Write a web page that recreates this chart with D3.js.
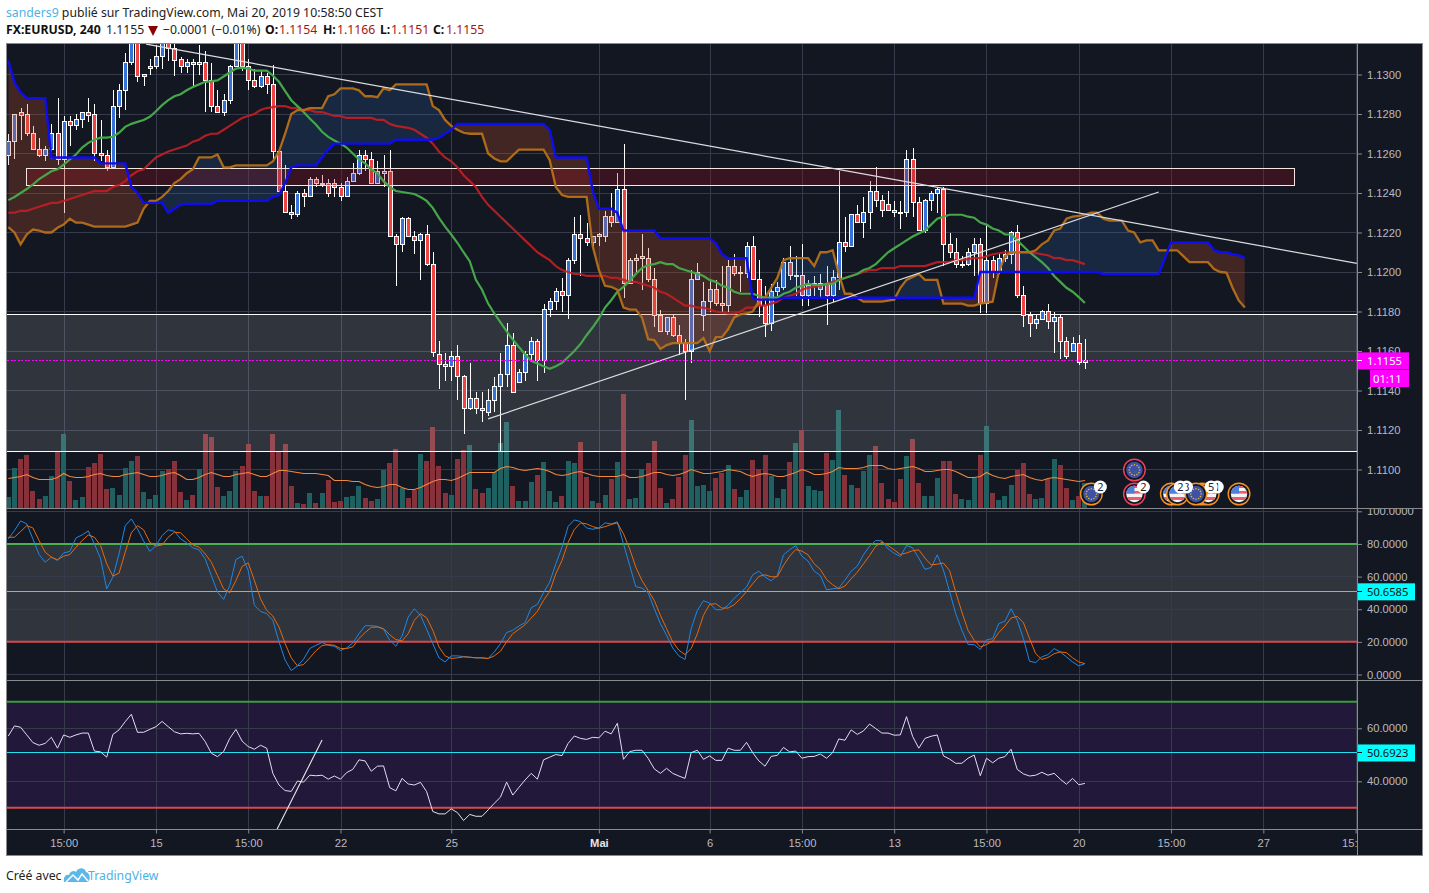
<!DOCTYPE html>
<html><head><meta charset="utf-8">
<script src="https://cdn.jsdelivr.net/npm/d3@7"></script>
<style>
html,body{margin:0;padding:0;background:#fff}
svg{display:block}
text{font-family:"Noto Sans","Open Sans",sans-serif}
.ax text{font-family:"Liberation Sans",Arial,sans-serif;font-size:11.2px;fill:#b8bac2}
</style></head><body><div id="c"></div>
<script>
const opens=[1.1259,1.1266,1.1281,1.1280,1.1270,1.1262,1.1259,1.1262,1.1270,1.1257,
1.1276,1.1274,1.1277,1.1281,1.1280,1.1260,1.1259,1.1253,1.1284,1.1292,
1.1306,1.1320,1.1300,1.1303,1.1304,1.1309,1.1320,1.1313,1.13075,1.1304,
1.1306,1.1305,1.1306,1.1297,1.1284,1.1281,1.1287,1.1304,1.1322,1.1304,
1.1297,1.1294,1.1299,1.1295,1.1261,1.1241,1.1230,1.1229,1.1240,1.1238,
1.1247,1.1245,1.1245,1.1245,1.1243,1.1238,1.1246,1.1250,1.1259,1.1257,
1.1245,1.1250,1.1251,1.1218,1.1214,1.1227,1.1218,1.1216,1.1219,1.1204,
1.1158,1.1153,1.1152,1.1157,1.1147,1.1131,1.1136,1.1131,1.1129,1.1135,
1.1142,1.1148,1.1163,1.1144,1.1149,1.1158,1.1165,1.1155,1.1181,1.1185,
1.1190,1.1188,1.1206,1.1219,1.1217,1.1215,1.1219,1.1218,1.1228,1.1225,
1.1242,1.1194,1.1206,1.1208,1.1207,1.1196,1.1178,1.1170,1.1177,1.1168,
1.1164,1.1160,1.1196,1.1178,1.1185,1.1191,1.1184,1.1183,1.1203,1.1200,
1.1199,1.1213,1.1196,1.1183,1.1174,1.1190,1.1192,1.1205,1.1198,1.1198,
1.1188,1.1194,1.1191,1.1194,1.1188,1.1197,1.1215,1.1213,1.1229,1.1225,
1.1230,1.1241,1.1236,1.1234,1.1231,1.1230,1.1230,1.1257,1.1235,1.1221,
1.1236,1.1240,1.1242,1.1214,1.1210,1.1204,1.1204,1.1210,1.1214,1.1184,
1.1206,1.1200,1.1207,1.1209,1.1220,1.1188,1.1178,1.1174,1.1176,1.1180,
1.1175,1.1177,1.1165,1.1160,1.1164,1.1154];
const highs=[1.1270,1.1280,1.1283,1.1285,1.1274,1.1268,1.1264,1.1275,1.1288,1.1279,
1.1279,1.1280,1.1281,1.1288,1.1285,1.1277,1.1262,1.1292,1.1295,1.1311,
1.1325,1.1323,1.1300,1.1308,1.1315,1.1322,1.1322,1.1318,1.1309,1.1308,
1.1308,1.1315,1.1312,1.1306,1.1292,1.1290,1.1305,1.1325,1.1325,1.1308,
1.1303,1.1302,1.1301,1.1305,1.1261,1.1254,1.1234,1.1241,1.1242,1.1248,
1.1248,1.1249,1.1247,1.1247,1.1245,1.1248,1.1255,1.1262,1.1262,1.1261,
1.1256,1.1259,1.1262,1.1219,1.1228,1.1228,1.1221,1.1220,1.1224,1.1210,
1.1165,1.1159,1.1160,1.1163,1.1148,1.1154,1.1139,1.1139,1.1141,1.1147,
1.1159,1.1174,1.1169,1.1151,1.1160,1.1167,1.1166,1.1184,1.1187,1.1192,
1.1197,1.1207,1.1228,1.1229,1.1225,1.1218,1.1220,1.1231,1.1240,1.1250,
1.1265,1.1207,1.1209,1.1219,1.1212,1.1202,1.1181,1.1177,1.1178,1.1173,
1.1166,1.1201,1.12045,1.1195,1.1196,1.1196,1.1203,1.1206,1.1209,1.1203,
1.1215,1.1218,1.1206,1.1193,1.1194,1.1195,1.1207,1.1213,1.1208,1.1214,
1.1196,1.1198,1.1199,1.1203,1.1201,1.1251,1.1228,1.1229,1.1234,1.1238,
1.1246,1.1253,1.1239,1.1241,1.1236,1.1236,1.1262,1.1263,1.1238,1.1237,
1.1241,1.1243,1.1243,1.1220,1.1217,1.1208,1.1212,1.1217,1.1217,1.1224,
1.1208,1.1209,1.1211,1.1221,1.1224,1.1193,1.1180,1.1178,1.1181,1.1184,
1.1180,1.1178,1.1167,1.1167,1.1168,1.1166];
const lows=[1.1254,1.1257,1.1267,1.1269,1.1262,1.1258,1.1256,1.1257,1.1254,1.1230,
1.1264,1.1272,1.1273,1.1276,1.1256,1.1256,1.1251,1.1252,1.1278,1.1282,
1.1305,1.1296,1.1294,1.1300,1.1303,1.1303,1.1307,1.1299,1.1301,1.1301,
1.1294,1.1300,1.1281,1.1281,1.1281,1.1279,1.1285,1.1304,1.1302,1.1292,
1.1293,1.1293,1.1290,1.1257,1.1240,1.1230,1.1227,1.1228,1.1233,1.1238,
1.1243,1.1243,1.1238,1.1238,1.1236,1.1238,1.1246,1.1249,1.1251,1.1245,
1.1245,1.1243,1.1218,1.1193,1.1210,1.1218,1.1209,1.1196,1.1203,1.1157,
1.1141,1.1145,1.1145,1.1135,1.1118,1.1130,1.1128,1.1124,1.1127,1.1129,
1.1109,1.1142,1.1139,1.1144,1.1145,1.1155,1.1145,1.1149,1.1177,1.1181,
1.1180,1.1176,1.1204,1.1198,1.1213,1.1211,1.1213,1.1215,1.1223,1.1225,
1.1187,1.1194,1.1200,1.1191,1.1195,1.1172,1.1170,1.1168,1.1167,1.1158,
1.1135,1.1154,1.1196,1.1170,1.1180,1.1183,1.1180,1.1180,1.1198,1.1190,
1.1197,1.1196,1.1177,1.1167,1.1170,1.1188,1.1191,1.1196,1.1188,1.1183,
1.1183,1.1188,1.1187,1.1173,1.1185,1.1191,1.1210,1.1213,1.1225,1.1217,
1.1222,1.1233,1.1228,1.1231,1.1228,1.1222,1.1228,1.1228,1.1221,1.1220,
1.1231,1.1230,1.1203,1.1207,1.1202,1.1202,1.1203,1.1198,1.1179,1.1179,
1.1197,1.1199,1.1205,1.1204,1.1187,1.1172,1.1167,1.1171,1.1176,1.1171,
1.1159,1.1156,1.1156,1.1160,1.1153,1.1151];
const closes=[1.1266,1.1280,1.1279,1.1270,1.1262,1.1259,1.1262,1.1270,1.1257,1.1276,
1.1274,1.1277,1.1281,1.1279,1.1260,1.1259,1.1253,1.1284,1.1292,1.1306,
1.1320,1.1299,1.1299,1.1304,1.1309,1.1317,1.1313,1.1307,1.1304,1.1306,
1.1305,1.1306,1.1297,1.1284,1.1281,1.1287,1.1304,1.1320,1.1304,1.1297,
1.1294,1.1299,1.1295,1.1261,1.1241,1.1230,1.1229,1.1240,1.1238,1.1247,
1.1245,1.1245,1.1240,1.1243,1.1238,1.1246,1.1250,1.1259,1.1257,1.1245,
1.1251,1.1251,1.1218,1.1214,1.1227,1.1218,1.1216,1.1219,1.1204,1.1159,
1.1153,1.1152,1.1157,1.1147,1.1131,1.1136,1.1131,1.1130,1.1135,1.1142,
1.1148,1.1163,1.1139,1.1149,1.1158,1.1165,1.1155,1.1181,1.1185,1.1190,
1.1188,1.1206,1.1219,1.1217,1.1215,1.1218,1.1218,1.1228,1.1225,1.1242,
1.1194,1.1206,1.1207,1.1207,1.1196,1.1178,1.1170,1.1177,1.1168,1.1164,
1.1160,1.1196,1.1200,1.1185,1.1191,1.1184,1.1183,1.1203,1.1199,1.1199,
1.1213,1.1196,1.1183,1.1174,1.1190,1.1192,1.1205,1.1198,1.1198,1.1188,
1.1193,1.1194,1.1194,1.1188,1.1197,1.1215,1.1213,1.1229,1.1225,1.1230,
1.1241,1.1236,1.1231,1.1231,1.1230,1.1230,1.1257,1.1235,1.1221,1.1236,
1.1240,1.1242,1.1214,1.1210,1.1204,1.1204,1.1210,1.1214,1.1184,1.1206,
1.1200,1.1207,1.1209,1.1220,1.1188,1.1178,1.1174,1.1176,1.1180,1.1175,
1.1177,1.1165,1.1157,1.1164,1.1154,1.1155];
const volumes=[12,41,50,54,18,10,13,33,58,75,28,9,12,42,46,55,20,21,14,41,
48,53,17,10,14,38,40,48,17,9,14,40,75,72,22,13,18,38,43,65,
18,13,13,75,58,65,23,6,5,16,6,16,29,7,8,12,13,23,11,8,
10,39,46,60,21,11,19,55,48,82,43,16,14,50,59,64,20,16,21,37,
66,87,23,8,8,27,34,47,18,7,13,48,46,67,32,8,6,14,30,47,
115,10,11,40,46,68,21,6,10,32,54,89,23,24,18,31,36,44,20,12,
19,49,40,54,33,11,20,47,66,79,23,19,18,56,49,99,34,24,21,38,
54,63,26,10,7,30,53,70,26,13,13,31,48,48,15,10,9,31,54,83,
16,9,13,24,39,46,15,10,11,30,50,44,21,9,13,26];
const volumeDirections=["uudddduudu","duudddduuu","uduuuudddu","duddduuudd","dudddddudu","duddduuudd","uuddudd"+"udd","dduddudduu","uuduuuduuu","duuddududu","duuudddudd","duuuuddudu","uddduuudud","uuuduududu","udddddu"+"ddu","uuddduuudu","duuuddduud","uddudu"].join("");
const volumeAverage=[30,31,32,34,31,29,29,29,31,35,32,31,31,32,34,35,33,32,32,34,
35,36,34,32,32,33,35,36,33,29,29,31,34,36,34,32,32,34,35,36,
34,32,32,35,38,38,37,36,35,35,35,34,33,28,28,28,27,27,24,22,
21,22,24,24,21,19,19,21,24,27,29,29,28,30,33,36,36,36,36,36,
40,42,41,39,38,39,40,39,37,34,33,34,36,37,35,33,32,32,32,32,
34,31,31,32,34,36,36,34,33,34,36,39,37,35,35,36,37,39,38,37,
34,32,34,35,34,32,32,34,36,39,37,34,34,35,37,41,40,40,40,41,
43,43,43,40,39,40,41,42,40,37,37,38,39,39,37,34,31,31,32,36,
33,31,30,32,33,34,31,29,28,30,31,30,29,28,27,28];
const spanA=[1.12227,1.1220,1.1214,1.1219,1.12215,1.1221,1.1220,1.1220,1.12224,1.1224,
1.1227,1.1225,1.1225,1.1224,1.1223,1.1223,1.1223,1.1223,1.1223,1.1223,
1.1224,1.1225,1.1232,1.1236,1.1236,1.1238,1.1241,1.1245,1.1247,1.1250,
1.1252,1.1258,1.1258,1.1258,1.12595,1.1253,1.1253,1.1254,1.1254,1.1254,
1.1254,1.1254,1.1254,1.1256,1.1261,1.1270,1.1280,1.1282,1.1282,1.1283,
1.1283,1.1283,1.1289,1.1290,1.1293,1.1293,1.1293,1.1292,1.1289,1.1289,
1.12885,1.1293,1.1292,1.1295,1.1295,1.1295,1.1295,1.1295,1.1295,1.1284,
1.1282,1.1277,1.1274,1.1272,1.12705,1.1270,1.1270,1.1270,1.1260,1.12575,
1.1256,1.1256,1.1259,1.1262,1.1262,1.1262,1.1262,1.1262,1.12566,1.1243,
1.1239,1.1238,1.1238,1.1238,1.1238,1.1213,1.1201,1.1193,1.11925,1.1191,
1.1182,1.1181,1.1181,1.1177,1.1166,1.11655,1.1161,1.1163,1.1164,1.1164,
1.1164,1.1164,1.1164,1.11665,1.1160,1.1167,1.1167,1.1171,1.1177,1.11785,
1.1179,1.1180,1.1185,1.1187,1.1192,1.1197,1.1206,1.1207,1.1207,1.1207,
1.1207,1.1203,1.1210,1.1210,1.1211,1.1199,1.1189,1.1189,1.1187,1.1185,
1.1185,1.1185,1.1185,1.11855,1.1186,1.1192,1.1196,1.11975,1.1199,1.1196,
1.1196,1.1196,1.1184,1.1184,1.1184,1.1184,1.1183,1.1183,1.1184,1.11845,
1.1185,1.1200,1.1208,1.1210,1.1210,1.1210,1.1210,1.1211,1.1214,1.1216,
1.1221,1.1222,1.1227,1.1228,1.12284,1.1229,1.1230,1.1230,1.1227,1.1226,
1.1226,1.1226,1.1221,1.1220,1.1215,1.1216,1.1216,1.1211,1.1211,1.1211,
1.1211,1.1208,1.1205,1.1205,1.1205,1.1205,1.12015,1.1200,1.11997,1.1192,
1.11856,1.1182];
const spanB=[1.1307,1.1296,1.1291,1.1288,1.1288,1.1288,1.1288,1.1258,1.1258,1.1258,
1.1258,1.1258,1.1258,1.1258,1.1258,1.1255,1.1255,1.1255,1.1255,1.1255,
1.1243,1.1240,1.1235,1.1235,1.1235,1.1235,1.1230,1.1232,1.1234,1.12345,
1.12345,1.12345,1.12345,1.12345,1.1236,1.1236,1.1236,1.1236,1.1236,1.1236,
1.1236,1.1236,1.1236,1.1238,1.1239,1.1245,1.1253,1.1254,1.1254,1.1254,
1.1254,1.1258,1.1262,1.1265,1.1265,1.1265,1.1265,1.1265,1.1265,1.1265,
1.1265,1.1265,1.1265,1.1267,1.1267,1.1267,1.1267,1.1267,1.1267,1.1267,
1.1268,1.1270,1.1272,1.1275,1.1275,1.1275,1.1275,1.1275,1.1275,1.1275,
1.1275,1.1275,1.1275,1.1275,1.1275,1.1275,1.1275,1.1275,1.1272,1.1258,
1.1258,1.1258,1.1258,1.1258,1.1258,1.1241,1.1232,1.1232,1.1232,1.1230,
1.1221,1.1221,1.1221,1.1221,1.1221,1.1221,1.1217,1.1217,1.1217,1.1217,
1.1217,1.1217,1.1217,1.1217,1.1217,1.12145,1.1209,1.1207,1.1207,1.1207,
1.1207,1.11865,1.1186,1.1186,1.1186,1.1186,1.1187,1.1187,1.1187,1.1187,
1.1187,1.1187,1.1187,1.1187,1.1187,1.1187,1.1187,1.1187,1.1187,1.1187,
1.1187,1.1187,1.1187,1.1187,1.1187,1.1187,1.1187,1.1187,1.1187,1.1187,
1.1187,1.1187,1.1187,1.1187,1.1187,1.1187,1.1187,1.1187,1.1200,1.1200,
1.1200,1.1200,1.1200,1.1200,1.1200,1.1200,1.1200,1.1200,1.1200,1.1200,
1.1200,1.1200,1.1200,1.1200,1.1200,1.1200,1.1200,1.1200,1.1199,1.1199,
1.1199,1.1199,1.1199,1.1199,1.1199,1.1199,1.1199,1.1199,1.1207,1.1215,
1.1215,1.1215,1.1215,1.1215,1.1215,1.1215,1.1211,1.1210,1.1210,1.1209,
1.12085,1.1207];
const maFast=[1.12364,1.1238,1.1240,1.1242,1.12443,1.1247,1.1249,1.1251,1.1252,1.12544,
1.1257,1.12595,1.1263,1.12654,1.1267,1.1268,1.1268,1.12685,1.12705,1.12735,
1.1275,1.1276,1.1277,1.12786,1.12814,1.12845,1.1287,1.1289,1.1290,1.1292,
1.12937,1.1295,1.12963,1.12965,1.1297,1.1299,1.1301,1.1303,1.13035,1.1303,
1.1302,1.1302,1.1302,1.12995,1.12963,1.12916,1.1287,1.1284,1.1281,1.12777,
1.12747,1.1271,1.12684,1.12666,1.1265,1.1263,1.1260,1.1257,1.1255,1.1252,
1.1250,1.1246,1.1243,1.1241,1.12405,1.1240,1.12395,1.1238,1.1236,1.12325,
1.12274,1.1223,1.1219,1.12148,1.1210,1.12055,1.1196,1.1191,1.1184,1.1179,
1.11745,1.1170,1.11658,1.1162,1.11584,1.1155,1.11537,1.11523,1.1151,1.11523,
1.1154,1.1157,1.1160,1.11635,1.1168,1.1172,1.11765,1.1182,1.11857,1.1190,
1.11925,1.11955,1.1199,1.1202,1.12035,1.1204,1.1205,1.1204,1.1204,1.1202,
1.1201,1.1200,1.11992,1.1198,1.1196,1.1195,1.1193,1.1192,1.1190,1.1189,
1.1189,1.1189,1.1188,1.1187,1.1187,1.1187,1.1189,1.1190,1.1192,1.1193,
1.1194,1.11935,1.11933,1.1194,1.1194,1.1196,1.1197,1.1198,1.1199,1.1201,
1.1202,1.1204,1.1207,1.1210,1.1212,1.1214,1.1216,1.1218,1.12195,1.1221,
1.1224,1.1227,1.1228,1.1229,1.1229,1.1229,1.1228,1.12275,1.1225,1.1224,
1.1222,1.1221,1.1219,1.1219,1.1216,1.1213,1.1210,1.12075,1.1205,1.1202,
1.1198,1.1195,1.1192,1.1190,1.11873,1.11843];
const maSlow=[1.1230,1.1230,1.1231,1.1231,1.1232,1.1233,1.1234,1.1235,1.1235,1.1236,
1.1237,1.1238,1.1239,1.1240,1.1241,1.1241,1.1241,1.1243,1.1244,1.1246,
1.1249,1.1251,1.1252,1.1255,1.1258,1.12595,1.1261,1.1262,1.1263,1.1264,
1.1266,1.1267,1.1269,1.1270,1.1270,1.1272,1.1274,1.1276,1.1278,1.1279,
1.1280,1.1282,1.1283,1.12835,1.1284,1.1284,1.1283,1.1283,1.1282,1.1282,
1.1281,1.1281,1.1280,1.1279,1.1279,1.1278,1.1278,1.1278,1.1278,1.1278,
1.1277,1.1277,1.1275,1.1274,1.12735,1.1273,1.1272,1.1270,1.1268,1.1265,
1.1261,1.1258,1.1256,1.1253,1.1249,1.1246,1.1243,1.1238,1.1234,1.1231,
1.1228,1.1225,1.1222,1.1219,1.1216,1.1213,1.1210,1.1208,1.1206,1.1203,
1.1201,1.1200,1.1199,1.1199,1.1198,1.1198,1.1198,1.1198,1.1197,1.1197,
1.1196,1.1195,1.1195,1.1194,1.1193,1.1192,1.1190,1.1189,1.1187,1.1185,
1.1183,1.1183,1.1182,1.1182,1.1181,1.1180,1.11795,1.1179,1.1179,1.1180,
1.1182,1.1182,1.1183,1.1183,1.1184,1.1185,1.1187,1.1188,1.1189,1.1191,
1.1192,1.11925,1.1193,1.1194,1.1195,1.1196,1.1197,1.1198,1.1199,1.1200,
1.1201,1.1201,1.1202,1.1202,1.1202,1.1203,1.1203,1.1203,1.1203,1.1203,
1.1204,1.1205,1.1205,1.1205,1.1206,1.1206,1.12065,1.1207,1.1207,1.1208,
1.1209,1.12095,1.1210,1.1210,1.1210,1.1210,1.1210,1.12096,1.1209,1.12085,
1.1207,1.1207,1.1206,1.1206,1.1205,1.1204];
const stochK=[83.1,88.2,94.1,92.3,83.1,73.5,68.8,71.9,69.9,74.5,75.4,83.7,85.5,88,80,70.9,52.5,59.7,73.9,91.2,
95.3,89.2,81.7,75.4,79,85.1,88.6,87.8,83.1,80.7,77.6,76.4,70.9,60.7,50.5,46,54.6,70.5,72.5,63.7,
42.4,38.7,37.3,33.2,20,8.8,2.4,5.3,9.4,15.9,17.9,19.6,17.9,17.3,14.7,16.3,19.3,25,29.9,29.9,
29.5,27.7,21,17.3,23.6,35.2,40.3,36.3,27.7,18.9,10.2,7.7,11.4,11.4,11,10.6,10.2,10.2,9.8,13.8,
18.9,25.7,27.1,29.7,31.8,40.9,43,50.1,56.6,67.8,78,90.8,94.7,93.7,89.8,89,89.8,92.9,92.3,93.5,
80,66.8,53.8,53,50.1,40.3,31.2,24,16.3,11.4,9.2,28.1,39.3,45.2,43.8,39.7,39.7,42.4,46.8,50.1,
53.6,61.1,63.3,59.7,57.4,60.7,73.3,76.4,79,72.5,69.5,63.3,60.7,51.9,52.5,53,57.8,63.3,66.4,73.3,
78.6,82.1,81.9,77,74.3,72.3,79,77.6,71.3,64.4,65.6,73.3,64,50.9,37.3,27.1,18.5,18.3,15.3,21.2,
22,31.2,32.6,40.3,33.2,22,8.1,7.3,10.8,12.2,15.9,13.8,10.8,7.7,5.3,6.7];
const stochD=[84.1,84.1,87.6,91.2,89.8,82.1,74.9,71.9,70.3,72.5,73.5,78,82.1,85.5,84.1,79,67.8,60.3,62.1,74.9,
86.8,91.2,88.6,81,78.6,79.4,84.1,87.2,86.8,83.1,79.4,78,73.9,68.8,60.7,52.5,50.1,57.6,66.2,68.4,
57.6,46.4,39.3,35.8,29.1,18.9,10.2,5.3,6.1,10.2,14.5,17.7,18.3,17.9,15.9,15.9,16.9,22,25.7,28.9,
29.1,28.1,24.4,21.4,20.6,25,33.2,37.3,34.8,27.1,16.9,11.4,9.8,10.2,10.8,10.6,10.2,10.2,9.8,11.4,
14.3,20,25,27.7,30.5,34.6,38.7,45.4,50.9,61.7,69.9,81,88.8,92.9,92.3,90.6,89.6,90.6,91.9,92.9,
86.2,77,65.8,57.6,51.5,45.4,36.3,28.1,20,14.9,12.2,15.9,25,36.3,43,43.4,40.7,40.7,42.8,46.4,
50.9,55.6,60.1,61.1,59.9,59.9,66.8,72.5,76.6,75.6,73.3,67.8,64.4,58.2,55,52.5,54.2,58.7,62.7,67.8,
72.9,78.6,81.1,79,76.4,73.5,74.5,75.8,76.4,71.3,67.2,67.6,68.3,63.7,50.5,38.3,27.1,21,16.9,18.3,
20.4,25.7,29.7,34.6,35.6,31.8,22,12.8,9.2,10.4,12.8,13.8,13.4,10.2,7.7,6.7];
const rsi=[57.1,60.9,60.4,57.5,54.6,53.6,54.3,56.6,52.5,57.5,56.6,57.5,58.2,58.2,51.4,51.1,49.1,57.7,59.4,62.5,
65.3,58.5,58.5,59.6,60.6,62.6,60.6,58.7,57.9,58.1,57.9,58.1,55,50.6,49.3,51.2,56.2,59.6,55.2,53.1,
52.1,53.6,52.5,43,38.6,36.5,36.2,40.1,39.7,42.3,42.1,42.3,40.8,42,40.8,43.3,44.5,48.1,47.7,43.8,
45.7,45.8,37.6,36.4,41.1,39,38.6,39.6,36.1,28.6,27.7,27.7,29.6,28.2,25.2,27.5,26.8,26.8,29.2,31.7,
34,39.7,34.8,37.7,40.5,43,40.8,48.1,49.1,50.1,49.7,54.3,57.1,56.2,55.8,56.6,56.4,58.9,57.9,61.9,
48.3,51.2,51.7,51.7,48.7,44.7,43,44.9,43,42,41.1,50.8,51.7,48.3,49.6,47.9,47.9,52.5,51.7,51.7,
54.7,50.8,47.7,45.7,49.4,49.8,52.8,51.1,51.4,48.7,49.3,49.4,50.3,48.7,50.8,56,55.5,59.4,57.7,59,
61.6,59.9,58.2,58.2,57.4,57.5,64.4,56.9,52.5,56.2,57,57.5,49.6,48.4,46.8,46.8,48.7,49.9,42.1,48.7,
47,48.7,49.3,52.1,44.5,42.8,42,42.3,43.4,42.3,43,40.8,38.9,41.1,38.7,39.2];
const priceTicks=[1.13,1.128,1.126,1.124,1.122,1.12,1.118,1.116,1.114,1.112,1.11];
const stochTicks=[0,20,40,60,80,100];
const rsiTicks=[40,60];
const timeTickIndex=[9,24,39,54,72,96,114,129,144,159,174,189,204,219];
const timeTickLabels=["15:00","15","15:00","22","25","Mai","6","15:00","13","15:00","20","15:00","27","15:00"];
const lastPrice=1.1155, countdown="01:11", stochValue=50.6585, rsiValue=50.6923;
const supportLevels=[1.11787,1.1109];
const resistanceBox={i0:3,i1:209,top:1.12525,bottom:1.1244};
const trendDown=[[22.4,1.13154],[219.2,1.12044]];
const trendUp=[[78,1.11256],[187,1.12405]];
const trendRsi=[[43.7,22],[51,55.6]];
const eventIndex=[176,183,183,189,190,194,195,193,200];
const eventFlag=["eu","eu","us","us","us","us","us","eu","us"];
const eventRow=[0,1,0,0,0,0,0,0,0];
const eventRing=["#f7931e","#f0425b","#f0425b","#f7931e","#f7931e","#f7931e","#f7931e","#f7931e","#f7931e"];
const eventBadge=["2","","2","2","3","5","1","",""];

const W=1429,H=893,L=7,R=1357;
const svg=d3.select("#c").append("svg").attr("width",W).attr("height",H);
const defs=svg.append("defs");
const clip=(id,x,y,w,h)=>defs.append("clipPath").attr("id",id).append("rect").attr("x",x).attr("y",y).attr("width",w).attr("height",h);
clip("cMain",L,44,R-L,464);clip("cSt",L,509,R-L,171);clip("cRsi",L,681,R-L,148);
clip("cStAx",R,509,66,171);clip("cTime",0,830,R+1,26);

const x=d3.scaleLinear().domain([0,219]).range([8.3,1355.6]);
const y=d3.scaleLinear().domain([1.13,1.11]).range([74.5,469.5]);
const yVol=d3.scaleLinear().domain([0,115]).range([508.5,393.5]);
const yS=d3.scaleLinear().domain([0,100]).range([674.5,511.3]);
const yR=d3.scaleLinear().domain([40,60]).range([781.3,728.3]);
const BG="#131722",GRID="#363a4a",BORDER="#8a8a8e";

svg.append("rect").attr("x",6.5).attr("y",43.5).attr("width",1416).attr("height",812).attr("fill",BG).attr("stroke",BORDER);

const crisp=s=>s.attr("shape-rendering","crispEdges");
function hgrid(g,vals,sc){crisp(g.selectAll(null).data(vals).join("line").attr("x1",L).attr("x2",R).attr("y1",sc).attr("y2",sc).attr("stroke",GRID));}
function vgrid(g,y0,y1){crisp(g.selectAll(null).data(timeTickIndex).join("line").attr("x1",d=>x(d)+.5).attr("x2",d=>x(d)+.5).attr("y1",y0).attr("y2",y1).attr("stroke",GRID));}

// ---------- main pane
const main=svg.append("g").attr("clip-path","url(#cMain)");
hgrid(main,priceTicks,y);vgrid(main,44,508);
const idx=d3.range(opens.length);
crisp(main.selectAll(null).data(idx).join("rect").attr("x",i=>x(i)-2.5).attr("width",5)
 .attr("y",i=>yVol(volumes[i])).attr("height",i=>yVol(0)-yVol(volumes[i]))
 .attr("fill",i=>volumeDirections[i]==="u"?"#1f6060":"#87323a"));
const lineV=d3.line().x((d,i)=>x(i)).y(d=>yVol(d));
main.append("path").attr("d",lineV(volumeAverage)).attr("fill","none").attr("stroke","#f2873f").attr("stroke-width",1.1);
crisp(main.append("rect").attr("x",L).attr("width",R-L).attr("y",y(supportLevels[0])).attr("height",y(supportLevels[1])-y(supportLevels[0])).attr("fill","#fff").attr("fill-opacity",.125));
crisp(main.selectAll(null).data(supportLevels).join("line").attr("x1",L).attr("x2",R).attr("y1",y).attr("y2",y).attr("stroke","#fff").attr("stroke-width",1));

// candles
const cg=main.append("g");
crisp(cg.selectAll(null).data(idx).join("line").attr("x1",i=>Math.round(x(i))+.5).attr("x2",i=>Math.round(x(i))+.5)
 .attr("y1",i=>y(highs[i])).attr("y2",i=>y(lows[i])).attr("stroke","#fff"));
crisp(cg.selectAll(null).data(idx).join("rect").attr("x",i=>Math.round(x(i))-1.5).attr("width",4)
 .attr("y",i=>y(Math.max(opens[i],closes[i])))
 .attr("height",i=>Math.max(1,Math.abs(y(opens[i])-y(closes[i]))))
 .attr("fill",i=>closes[i]>=opens[i]?"#3672d8":"#ef4444").attr("stroke","#fff"));

// cloud
const nC=spanA.length;const cIdx=d3.range(nC);
const above=d3.area().x(i=>x(i)).y0(44).y1(i=>y(spanB[i]));
const below=d3.area().x(i=>x(i)).y0(508).y1(i=>y(spanB[i]));
defs.append("clipPath").attr("id","cAbove").append("path").attr("d",above(cIdx));
defs.append("clipPath").attr("id","cBelow").append("path").attr("d",below(cIdx));
const band=d3.area().x(i=>x(i)).y0(i=>y(spanA[i])).y1(i=>y(spanB[i]));
main.append("g").attr("clip-path","url(#cAbove)").append("path").attr("d",band(cIdx)).attr("fill","#2f6fc0").attr("fill-opacity",.2);
main.append("g").attr("clip-path","url(#cBelow)").append("path").attr("d",band(cIdx)).attr("fill","#c8502a").attr("fill-opacity",.26);

// resistance box
crisp(main.append("rect").attr("x",x(resistanceBox.i0)).attr("width",x(resistanceBox.i1)-x(resistanceBox.i0)).attr("y",y(resistanceBox.top)).attr("height",y(resistanceBox.bottom)-y(resistanceBox.top))
 .attr("fill","#96101e").attr("fill-opacity",.28).attr("stroke","#f5e6e0").attr("stroke-width",1));

const lineP=d3.line().x((d,i)=>x(i)).y(d=>y(d));
const pl=(arr,c,w,o)=>main.append("path").attr("d",lineP(arr)).attr("fill","none").attr("stroke",c).attr("stroke-width",w).attr("stroke-opacity",o||1);
pl(maSlow,"#c21f24",2.2,.9);
pl(maFast,"#46a64a",2.2,1);
pl(spanA,"#b5701a",2.3,.95);
pl(spanB,"#0d0df0",2.4,1);
const trend=d3.line().x(d=>x(d[0])).y(d=>y(d[1]));
[trendDown,trendUp].forEach(t=>main.append("path").attr("d",trend(t)).attr("fill","none").attr("stroke","#dcdce0").attr("stroke-width",1.2));
crisp(main.append("line").attr("x1",L).attr("x2",R).attr("y1",y(lastPrice)).attr("y2",y(lastPrice)).attr("stroke","#ff00ff").attr("stroke-dasharray","2,1.5"));

// events
const ev=svg.append("g");
eventIndex.forEach((e,k)=>{
 const cx=x(e)+.3,cy=eventRow[k]?470:494;
 const g=ev.append("g").attr("transform",`translate(${cx},${cy})`);
 g.append("circle").attr("r",10.8).attr("fill",BG).attr("stroke",eventRing[k]).attr("stroke-width",1.4);
 const id="fl"+k;
 defs.append("clipPath").attr("id",id).append("circle").attr("r",8.2);
 const f=g.append("g").attr("clip-path",`url(#${id})`);
 if(eventFlag[k]==="eu"){
  f.append("rect").attr("x",-9).attr("y",-9).attr("width",18).attr("height",18).attr("fill","#3f51a5");
  d3.range(12).forEach(a=>f.append("circle").attr("cx",5.2*Math.cos(a*Math.PI/6)).attr("cy",5.2*Math.sin(a*Math.PI/6)).attr("r",.8).attr("fill","#d8b93a"));
 }else{
  f.append("rect").attr("x",-9).attr("y",-9).attr("width",18).attr("height",18).attr("fill","#f4f4f6");
  f.append("rect").attr("x",-9).attr("y",3).attr("width",18).attr("height",3).attr("fill","#ef5b6b");
  f.append("rect").attr("x",-9).attr("y",-3).attr("width",18).attr("height",2.6).attr("fill","#ef5b6b");
  f.append("rect").attr("x",-9).attr("y",-9).attr("width",18).attr("height",3).attr("fill","#ef5b6b");
  f.append("rect").attr("x",-9).attr("y",-9).attr("width",9).attr("height",8.5).attr("fill","#4f7fd8");
 }
});
d3.range(eventIndex.length-1,-1,-1).forEach(k=>{
 if(!eventBadge[k])return;
 const cx=x(eventIndex[k])+9.3,cy=487;
 ev.append("circle").attr("cx",cx).attr("cy",cy).attr("r",6.5).attr("fill","#fff");
 ev.append("text").attr("x",cx).attr("y",cy+3.8).attr("text-anchor","middle").attr("font-size",11).attr("fill","#222").text(eventBadge[k]);
});

// ---------- stochastic pane
const st=svg.append("g").attr("clip-path","url(#cSt)");
crisp(st.append("rect").attr("x",L).attr("width",R-L).attr("y",yS(80)).attr("height",yS(20)-yS(80)).attr("fill","#fff").attr("fill-opacity",.125));
hgrid(st,stochTicks,yS);vgrid(st,509,680);
const lineS=d3.line().x((d,i)=>x(i)).y(d=>yS(d));
crisp(st.append("line").attr("x1",L).attr("x2",R).attr("y1",yS(stochValue)).attr("y2",yS(stochValue)).attr("stroke","#00f0f0"));
st.append("line").attr("x1",L).attr("x2",R).attr("y1",yS(80)).attr("y2",yS(80)).attr("stroke","#4caf50").attr("stroke-width",2);
st.append("line").attr("x1",L).attr("x2",R).attr("y1",yS(20)).attr("y2",yS(20)).attr("stroke","#d8484f").attr("stroke-width",2);
st.append("path").attr("d",lineS(stochK)).attr("fill","none").attr("stroke","#1e88e5").attr("stroke-width",1);
st.append("path").attr("d",lineS(stochD)).attr("fill","none").attr("stroke","#e8690a").attr("stroke-width",1);

// ---------- RSI pane
const rs=svg.append("g").attr("clip-path","url(#cRsi)");
crisp(rs.append("rect").attr("x",L).attr("width",R-L).attr("y",yR(70)).attr("height",yR(30)-yR(70)).attr("fill","#6a1fb0").attr("fill-opacity",.17));
hgrid(rs,rsiTicks,yR);vgrid(rs,681,829);
const lineR=d3.line().x((d,i)=>x(i)).y(d=>yR(d));
crisp(rs.append("line").attr("x1",L).attr("x2",R).attr("y1",yR(rsiValue)).attr("y2",yR(rsiValue)).attr("stroke","#20e0ee"));
rs.append("line").attr("x1",L).attr("x2",R).attr("y1",yR(70)).attr("y2",yR(70)).attr("stroke","#3d9a42").attr("stroke-width",2);
rs.append("line").attr("x1",L).attr("x2",R).attr("y1",yR(30)).attr("y2",yR(30)).attr("stroke","#d8484f").attr("stroke-width",2);
rs.append("path").attr("d",lineR(rsi)).attr("fill","none").attr("stroke","#e4dcf2").attr("stroke-width",1);
rs.append("path").attr("d",d3.line().x(d=>x(d[0])).y(d=>yR(d[1]))(trendRsi)).attr("fill","none").attr("stroke","#e8e8ea").attr("stroke-width",1.1);

// ---------- pane frame
const frame=[[L,R+65.5,508.5,508.5],[L,R+65.5,680.5,680.5],[L,R+65.5,829.5,829.5]];
crisp(svg.selectAll(null).data(frame).join("line").attr("x1",d=>d[0]).attr("x2",d=>d[1]).attr("y1",d=>d[2]).attr("y2",d=>d[3]).attr("stroke",BORDER));
crisp(svg.append("line").attr("x1",R+.5).attr("x2",R+.5).attr("y1",44).attr("y2",855).attr("stroke",BORDER));

// ---------- axes
function styleAxis(g){g.attr("class","ax");g.select(".domain").remove();g.selectAll(".tick line").attr("stroke","#8a8a8e");}
svg.append("g").attr("transform",`translate(${R},0)`).call(d3.axisRight(y).tickValues(priceTicks).tickSize(5).tickPadding(5).tickFormat(d3.format(".4f"))).call(styleAxis);
svg.append("g").attr("clip-path","url(#cStAx)").append("g").attr("transform",`translate(${R},0)`).call(d3.axisRight(yS).tickValues(stochTicks).tickSize(5).tickPadding(5).tickFormat(d3.format(".4f"))).call(styleAxis);
svg.append("g").attr("transform",`translate(${R},0)`).call(d3.axisRight(yR).tickValues(rsiTicks).tickSize(5).tickPadding(5).tickFormat(d3.format(".4f"))).call(styleAxis);
const tg=svg.append("g").attr("clip-path","url(#cTime)").append("g").attr("transform","translate(0,829.5)")
 .call(d3.axisBottom(x).tickValues(timeTickIndex).tickSize(4).tickPadding(6).tickFormat((d,i)=>timeTickLabels[i])).call(styleAxis);
tg.selectAll(".tick text").filter((d,i)=>timeTickLabels[i]==="Mai").attr("font-weight","bold").style("fill","#e6e6ea");

// value labels
function label(x0,w,cy,h,bg,fg,txt,tx){
 svg.append("rect").attr("x",x0).attr("y",cy-h/2).attr("width",w).attr("height",h).attr("fill",bg);
 svg.append("text").attr("x",tx).attr("y",cy+4).attr("fill",fg).attr("font-family","Liberation Sans").attr("font-size",11.2).text(txt);
}
label(R+1,51,y(lastPrice),17,"#ff00ff","#fff",d3.format(".4f")(lastPrice),1367);
label(1370,39,378.5,17,"#ff00ff","#fff",countdown,1373);
crisp(svg.append("line").attr("x1",R).attr("x2",R+5).attr("y1",y(lastPrice)).attr("y2",y(lastPrice)).attr("stroke","#fff"));
label(R+1,57,yS(stochValue),17,"#00ffff","#111",d3.format(".4f")(stochValue),1367);
label(R+1,57,yR(rsiValue),17,"#00ffff","#111",d3.format(".4f")(rsiValue),1367);
crisp(svg.append("line").attr("x1",R).attr("x2",R+5).attr("y1",yS(stochValue)).attr("y2",yS(stochValue)).attr("stroke","#111"));
crisp(svg.append("line").attr("x1",R).attr("x2",R+5).attr("y1",yR(rsiValue)).attr("y2",yR(rsiValue)).attr("stroke","#111"));

// ---------- header
const hdr=svg.append("g").attr("font-size",12.25);
const t1=hdr.append("text").attr("x",6).attr("y",17);
t1.append("tspan").attr("fill","#4cb3e6").text("sanders9");
t1.append("tspan").attr("fill","#222").text(" publié sur TradingView.com, Mai 20, 2019 10:58:50 CEST");
const place=(xp,txt,fill,bold)=>hdr.append("text").attr("x",xp).attr("y",34).attr("fill",fill).attr("font-weight",bold?"bold":null).text(txt);
place(6,"FX:EURUSD, 240","#111",true);
place(106,"1.1155","#222");
hdr.append("path").attr("d","M148,26 L158,26 L153,36 Z").attr("fill","#8b0000");
place(163,"−0.0001 (−0.01%)","#222");
const DR="#a31515";
place(265,"O:","#111",true);place(279,"1.1154",DR);
place(323,"H:","#111",true);place(337,"1.1166",DR);
place(380,"L:","#111",true);place(391,"1.1151",DR);
place(433,"C:","#111",true);place(446,"1.1155",DR);

// ---------- footer
svg.append("text").attr("x",6).attr("y",880).attr("font-size",12.25).attr("fill","#222").text("Créé avec");
const logo=svg.append("g").attr("transform","translate(64,867)");
logo.append("path").attr("d","M0,15 C-1,10 2,7 5,8 C6,4 10,3 12,5 C14,0 21,0 22,5 C26,6 27,12 24,15 Z").attr("fill","#5cb8e8");
logo.append("path").attr("d","M2,15 L9,8 L14,13 L18,7 L24,14").attr("fill","none").attr("stroke","#fff").attr("stroke-width",1.5);
svg.append("text").attr("x",88).attr("y",880).attr("font-size",12.25).attr("fill","#4cb3e6").text("TradingView");
</script></body></html>
